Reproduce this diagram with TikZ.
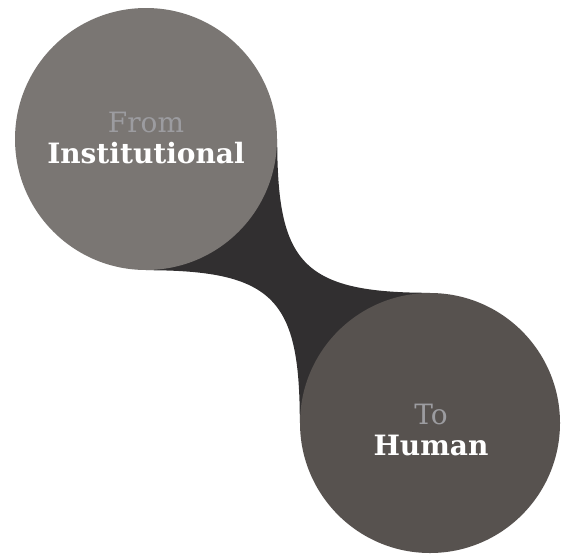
\documentclass[tikz,border=0pt]{standalone}
\usepackage{fontspec}
\setmainfont{DejaVu Serif}
\usepackage{tikz}
\usetikzlibrary{backgrounds}
\definecolor{PoleLight}{HTML}{7A7673}
\definecolor{PoleDark}{HTML}{57524F}
\definecolor{BridgeDark}{HTML}{312F30}
\definecolor{WordGray}{HTML}{9C9CA0}

\begin{document}
\begin{tikzpicture}[x=1pt,y=-1pt]
  \tikzstyle{pole}=[circle, inner sep=0pt, draw=none]
  \tikzstyle{word}=[align=center, text=white, inner sep=0pt, font=\fontsize{28}{31}\selectfont]
  \useasboundingbox (0,0) rectangle (564,554);
  \node[pole, fill=PoleLight, minimum size=262pt] (from) at (146,139) {};
  \node[pole, fill=PoleDark, minimum size=260pt] (to) at (430,423) {};
  \node[word] (fromword) at (146,138) {{\color{WordGray}From}\\\textbf{Institutional}};
  \node[word] (toword) at (431,430) {{\color{WordGray}To}\\\textbf{Human}};
  % bridge between the two poles
  \begin{scope}[on background layer]
    \fill[BridgeDark] (from.center) -- (from.south)
      .. controls +(129,0) and +(0,-123) .. (to.west) -- (to.center) -- (to.north)
      .. controls +(-129,0) and +(0,123) .. (from.east) -- cycle;
  \end{scope}
\end{tikzpicture}
\end{document}
